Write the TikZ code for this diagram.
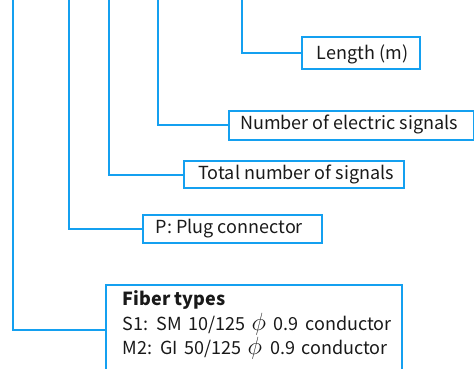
\documentclass[tikz,border=0pt]{standalone}
\usepackage{fontspec}
\setmainfont{Noto Sans CJK JP}
\definecolor{lineblue}{RGB}{20,160,240}
\newcommand{\phisym}{\hspace{6pt}{\fontsize{23}{23}\selectfont$\phi$}\hspace{8pt}}
\newcommand{\widesp}{\spaceskip=6.6pt\relax}
\tikzset{
  box/.style={draw=lineblue, line width=2pt, rectangle, inner sep=0pt, anchor=north west},
  conn/.style={draw=lineblue, line width=2pt},
  lbl/.style={anchor=base west, inner sep=0pt, font=\fontsize{18}{22}\selectfont, text=black!90}
}
\begin{document}
\begin{tikzpicture}[x=1pt,y=-1pt]
\useasboundingbox (0,0) rectangle (474,368);
\clip (0,0) rectangle (474,368);
% boxes
\node[box, minimum width=118pt, minimum height=32pt] (len) at (301,36) {};
\node[box, minimum width=244.5pt, minimum height=28.5pt] (num) at (228,110) {};
\node[box, minimum width=220pt, minimum height=27pt] (tot) at (183,160.3) {};
\node[box, minimum width=179pt, minimum height=28pt] (plug) at (142,213.8) {};
\node[box, minimum width=296pt, minimum height=89pt] (fib) at (105,284.3) {};
% tops
\coordinate (t1) at (242,0);
\coordinate (t2) at (157.7,0);
\coordinate (t3) at (109,0);
\coordinate (t4) at (69,0);
\coordinate (t5) at (13,0);
% connectors
\draw[conn] (t1) |- (len.west);
\draw[conn] (t2) |- (num.west);
\draw[conn] (t3) |- (tot.west);
\draw[conn] (t4) |- (plug.west);
\draw[conn] (t5) |- (fib.west);
% labels
\node[lbl] (lenT) at (316.7,59.7) {Length (m)};
\node[lbl] (numT) at (240,129.3) {Number of electric signals};
\node[lbl] (totT) at (198.3,179.5) {Total number of signals};
\node[lbl] (plugT) at (155.7,233) {P: Plug connector};
\node[lbl, font=\fontsize{18}{22}\selectfont\bfseries] (fibT) at (122.7,305) {Fiber types};
\node[lbl] (s1T) at (122.7,330) {\widesp S1: SM 10/125\phisym0.9 conductor};
\node[lbl] (m2T) at (122.7,354) {\widesp M2: GI 50/125\phisym0.9 conductor};
\end{tikzpicture}
\end{document}
